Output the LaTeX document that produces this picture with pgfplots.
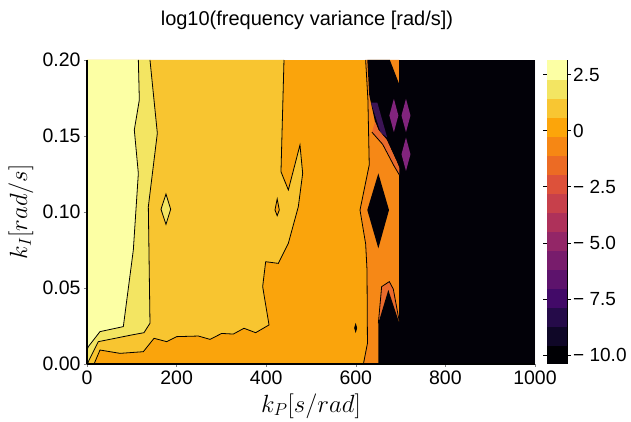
\documentclass[border=0pt]{standalone}
\usepackage[no-math]{fontspec}
\setmainfont{Liberation Sans}
\usepackage{pgfplots}
\pgfplotsset{compat=1.18}

\definecolor{c1}{RGB}{252,255,164}
\definecolor{c2}{RGB}{243,229,98}
\definecolor{c3}{RGB}{248,197,48}
\definecolor{c4}{RGB}{250,164,12}
\definecolor{c5}{RGB}{246,136,22}
\definecolor{c6}{RGB}{234,106,44}
\definecolor{c11}{RGB}{130,36,125}
\definecolor{cstripe}{RGB}{60,20,85}
\definecolor{c16}{RGB}{2,1,8}

\begin{document}
\begin{tikzpicture}
\useasboundingbox (-87pt,-58pt) rectangle (544pt,364pt);
\begin{axis}[
  scale only axis, width=448pt, height=304pt,
  xmin=0, xmax=1000, ymin=0, ymax=0.2,
  axis on top,
  axis x line*=bottom, axis y line*=left,
  axis line style={-, line width=1.8pt, black},
  x axis line style={-, line width=1.8pt, black},
  y axis line style={-, line width=1.8pt, black},
  xtick={0,200,400,600,800,1000},
  xticklabels={0,200,400,600,800,1000},
  ytick={0,0.05,0.1,0.15,0.2},
  yticklabels={0.00,0.05,0.10,0.15,0.20},
  ticklabel style={font=\fontsize{19.5}{23}\selectfont},
  tick align=outside, major tick length=3pt,
  tick style={gray, line width=0.4pt},
  xlabel={$k_P [s/rad]$},
  ylabel={$k_I [rad/s]$},
  xlabel style={font=\fontsize{23}{27}\selectfont, at={([yshift=-42pt]axis description cs:0.5,0)}, anchor=center},
  ylabel style={font=\fontsize{23}{27}\selectfont, at={([xshift=-66pt]axis description cs:0,0.5)}, anchor=center},
  colormap={inferno16}{rgb255=(0,0,4) rgb255=(15,7,39) rgb255=(37,11,73) rgb255=(66,10,104)
    rgb255=(93,19,108) rgb255=(120,28,108) rgb255=(147,38,103) rgb255=(174,49,90)
    rgb255=(199,64,75) rgb255=(221,81,58) rgb255=(236,107,36) rgb255=(246,135,20)
    rgb255=(252,165,10) rgb255=(248,198,50) rgb255=(243,229,98) rgb255=(252,255,164)},
  colormap access=piecewise constant,
  point meta min=-10.41, point meta max=3.16,
  colorbar,
  colorbar style={
    at={(parent axis.north east)}, anchor=north west, xshift=3.5pt,
    width=20pt,
    axis line style={draw=none},
    ytick={-10,-7.5,-5,-2.5,0,2.5},
    yticklabels={− 10.0,− 7.5,− 5.0,− 2.5,0,2.5},
    yticklabel style={font=\fontsize{19}{22}\selectfont, inner xsep=2pt},
    tick align=outside, major tick length=4pt,
    ytick style={black, line width=0.6pt},
    after end axis/.code={\draw[black, line width=0.6pt] (rel axis cs:1,0) -- (rel axis cs:1,1);},
  },
]
% base: orange-gold band
\addplot[fill=c4, draw=none] coordinates {(0,0) (1000,0) (1000,0.2) (0,0.2)} -- cycle;
% gold band
\addplot[fill=c3, draw=none] coordinates {(0,0.2) (439.7,0.2) (433,0.1265) (449.4,0.1145) (475.4,0.1441) (481.4,0.1254) (471.7,0.1035) (449.4,0.0794) (427,0.0662) (398.8,0.0673) (392.1,0.0509) (406.3,0.0257) (376.5,0.0206) (350.4,0.0235) (326.6,0.0197) (300.6,0.0201) (274.6,0.0162) (248.5,0.0184) (200.2,0.018) (177.9,0.0147) (149.6,0.0169) (125.7,0.0081) (73.7,0.007) (29,0.0092) (17.9,0.0015) (16,0) (0,0)} -- cycle;
% yellow band
\addplot[fill=c2, draw=none] coordinates {(0,0.2) (140.6,0.2) (157,0.1518) (136.9,0.1035) (140.6,0.0268) (127.2,0.0206) (99.7,0.0191) (25.3,0.0147) (2.9,0.0015) (2,0) (0,0)} -- cycle;
% pale band
\addplot[fill=c1, draw=none] coordinates {(0,0.2) (114.6,0.2) (116.8,0.1737) (105.6,0.154) (114.6,0.1254) (103.4,0.075) (81.1,0.0246) (29,0.0213) (2.9,0.0114) (0,0.009)} -- cycle;
% orange band
\addplot[fill=c5, draw=none] coordinates {(622,0.2) (627,0.174) (630,0.131) (609.4,0.1013) (622,0.079) (625,0.062) (626,0.0136) (617,0) (697,0) (697,0.2)} -- cycle;
% black region
\addplot[fill=c16, draw=none] coordinates {(697,0) (1000,0) (1000,0.2) (697,0.2)} -- cycle;
% dark wedge at top
\addplot[fill=c16, draw=none] coordinates {(625.7,0.2) (676,0.2) (697,0.184) (697,0.129) (691.3,0.1331) (669,0.1474) (650.3,0.154) (642.9,0.1594) (630,0.177)} -- cycle;
\addplot[fill=cstripe, draw=none] coordinates {(634,0.172) (648,0.172) (670,0.149) (655,0.1525)} -- cycle;
% orange-red strip
\addplot[fill=c6, draw=none] coordinates {(642.9,0.1594) (650.3,0.154) (669,0.1474) (691.3,0.1331) (697,0.129) (697,0.1245) (685,0.1305) (660,0.1445) (636,0.1525)} -- cycle;
\addplot[black, line width=0.8pt] coordinates {(636,0.1525) (660,0.1445) (685,0.1305) (697,0.1245)};
% middle dark diamond
\addplot[fill=c16, draw=none] coordinates {(650.3,0.1254) (674.1,0.1013) (650.3,0.0761) (625.7,0.1013)} -- cycle;
% bottom cap and dark triangle
\addplot[fill=c6, draw=none] coordinates {(650.3,0.0268) (657.7,0.0509) (674.8,0.0542) (683.7,0.0493) (697,0.028) (672.6,0.0487)} -- cycle;
\addplot[fill=c16, draw=none] coordinates {(650.3,0) (650.3,0.0268) (672.6,0.0487) (697,0.027) (697,0)} -- cycle;
\addplot[black, line width=0.8pt] coordinates {(650.3,0.0268) (657.7,0.0509) (674.8,0.0542) (683.7,0.0493) (697,0.028)};
% purple diamonds
\addplot[fill=c11, draw=none] coordinates {(685,0.1745) (695,0.1635) (685,0.1525) (675,0.1635)} -- cycle;
\addplot[fill=c11, draw=none] coordinates {(712,0.1745) (722,0.1635) (712,0.1525) (702,0.1635)} -- cycle;
\addplot[fill=c11, draw=none] coordinates {(712,0.149) (722,0.138) (712,0.127) (702,0.138)} -- cycle;
% small islands
\addplot[fill=c2, draw=black, line width=0.8pt] coordinates {(176.3,0.1118) (186.8,0.1018) (176.3,0.0919) (165.2,0.1018)} -- cycle;
\addplot[fill=c4, draw=black, line width=0.8pt] coordinates {(424.5,0.1086) (429.3,0.1013) (424.5,0.0976) (419.6,0.1013)} -- cycle;
\addplot[fill=black, draw=black, line width=0.8pt] coordinates {(599.7,0.0261) (602,0.0237) (599.7,0.0213) (597.4,0.0237)} -- cycle;
% contour lines
\addplot[black, line width=0.8pt] coordinates {(114.6,0.2) (116.8,0.1737) (105.6,0.154) (114.6,0.1254) (103.4,0.075) (81.1,0.0246) (29,0.0213) (2.9,0.0114) (0,0.009)};
\addplot[black, line width=0.8pt] coordinates {(140.6,0.2) (157,0.1518) (136.9,0.1035) (140.6,0.0268) (127.2,0.0206) (99.7,0.0191) (25.3,0.0147) (2.9,0.0015) (2,0)};
\addplot[black, line width=0.8pt] coordinates {(439.7,0.2) (433,0.1265) (449.4,0.1145) (475.4,0.1441) (481.4,0.1254) (471.7,0.1035) (449.4,0.0794) (427,0.0662) (398.8,0.0673) (392.1,0.0509) (406.3,0.0257) (376.5,0.0206) (350.4,0.0235) (326.6,0.0197) (300.6,0.0201) (274.6,0.0162) (248.5,0.0184) (200.2,0.018) (177.9,0.0147) (149.6,0.0169) (125.7,0.0081) (73.7,0.007) (29,0.0092) (17.9,0.0015) (16,0)};
\addplot[black, line width=0.8pt] coordinates {(622,0.2) (627,0.174) (630,0.131) (609.4,0.1013) (622,0.079) (625,0.062) (626,0.0136) (617,0)};
\draw[gray!40, line width=0.6pt] (rel axis cs:1,0) -- (rel axis cs:1,1);
\end{axis}
\node[font=\fontsize{20}{24}\selectfont] at (220pt,344pt) {log10(frequency variance [rad/s])};
\end{tikzpicture}
\end{document}
